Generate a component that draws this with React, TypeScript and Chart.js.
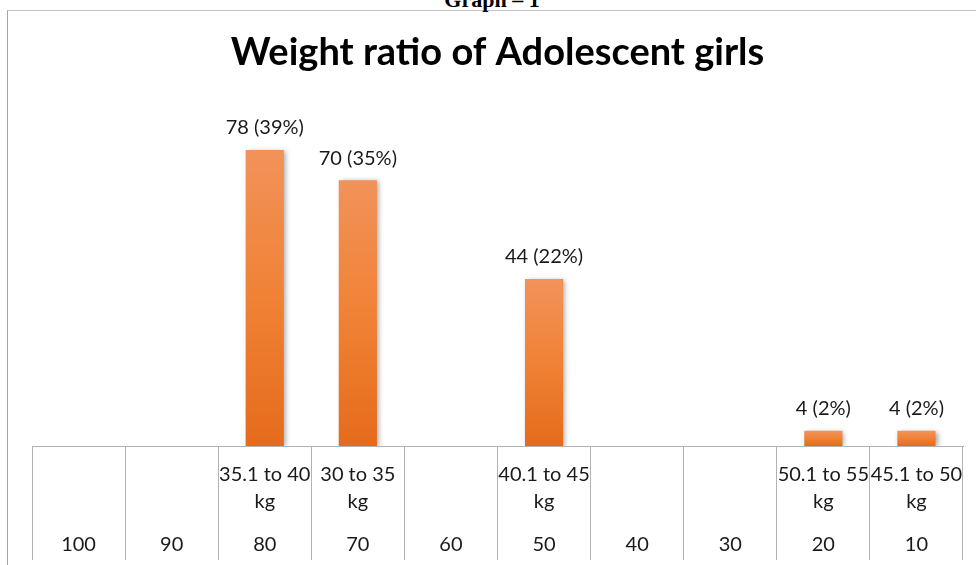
import React, { useEffect, useRef } from "react";
import { Chart, registerables } from "chart.js";

Chart.register(...registerables);

const chartTitle = "Weight ratio of Adolescent girls";
const rangeLabels: (string | string[])[] = [
  "",
  "",
  ["35.1 to 40", "kg"],
  ["30 to 35", "kg"],
  "",
  ["40.1 to 45", "kg"],
  "",
  "",
  ["50.1 to 55", "kg"],
  ["45.1 to 50", "kg"],
];
const numberLabels = ["100", "90", "80", "70", "60", "50", "40", "30", "20", "10"];
const counts: (number | null)[] = [null, null, 78, 70, null, 44, null, null, 4, 4];
const percents: (number | null)[] = [null, null, 39, 35, null, 22, null, null, 2, 2];

const FONT = "Lato, 'Open Sans', sans-serif";
const GRID = "#b3b3b3";
const TEXT = "#1a1a1a";
const CANVAS_H = 580;

export default function App() {
  const canvasRef = useRef<HTMLCanvasElement | null>(null);

  useEffect(() => {
    if (!canvasRef.current) return;

    const labelPlugin = {
      id: "barLabels",
      beforeDatasetsDraw(chart: any) {
        const ctx = chart.ctx;
        ctx.save();
        ctx.shadowColor = "rgba(0,0,0,0.35)";
        ctx.shadowBlur = 5;
        ctx.shadowOffsetX = 2;
        ctx.shadowOffsetY = 1;
      },
      afterDatasetsDraw(chart: any) {
        const ctx = chart.ctx;
        ctx.restore();
        const meta = chart.getDatasetMeta(0);
        ctx.save();
        ctx.font = `20px ${FONT}`;
        ctx.fillStyle = TEXT;
        ctx.textAlign = "center";
        ctx.textBaseline = "middle";
        meta.data.forEach((bar: any, i: number) => {
          const v = counts[i];
          if (v == null) return;
          ctx.fillText(`${v} (${percents[i]}%)`, bar.x, bar.y - 22);
        });
        ctx.restore();
      },
    };

    const tickFont = { family: FONT, size: 20, lineHeight: "27px" as any };

    const chart = new Chart(canvasRef.current, {
      type: "bar",
      data: {
        labels: rangeLabels as any,
        datasets: [
          {
            data: counts as any,
            xAxisID: "x",
            yAxisID: "y",
            categoryPercentage: 1,
            barPercentage: 0.41,
            backgroundColor: (c: any) => {
              const chartObj = c.chart;
              const y = chartObj.scales?.y;
              const v = c.raw;
              if (!y || v == null) return "#ed7d31";
              const top = y.getPixelForValue(v);
              const bottom = y.getPixelForValue(0);
              if (!isFinite(top) || !isFinite(bottom) || top === bottom) return "#ed7d31";
              const g = chartObj.ctx.createLinearGradient(0, top, 0, bottom);
              g.addColorStop(0, "#f2925a");
              g.addColorStop(0.5, "#f08235");
              g.addColorStop(1, "#e56b1b");
              return g;
            },
            borderWidth: 0,
          },
        ],
      },
      options: {
        responsive: false,
        animation: false,
        layout: { padding: { left: 32, right: 13, top: 10, bottom: 5.5 } },
        plugins: {
          legend: { display: false },
          tooltip: { enabled: false },
          title: {
            display: true,
            text: chartTitle,
            color: "#000000",
            font: { family: FONT, size: 38, weight: "bold" },
            padding: { top: 20.2, bottom: 28.6 },
          },
        },
        scales: {
          y: {
            display: false,
            min: 0,
            max: 90,
          },
          // axis carrying the table's vertical lines
          x: {
            type: "category",
            position: "bottom",
            weight: 0,
            offset: true,
            grid: {
              offset: true,
              drawOnChartArea: false,
              drawTicks: true,
              tickLength: 114,
              color: GRID,
              lineWidth: 1,
            },
            border: { display: true, color: GRID, width: 1 },
            ticks: {
              autoSkip: false,
              maxRotation: 0,
              minRotation: 0,
              padding: -62.75,
              font: tickFont,
              callback: () => "",
            },
          },
          // range labels row
          xr: {
            type: "category",
            position: "bottom",
            weight: 1,
            labels: rangeLabels as any,
            offset: true,
            grid: { display: false, drawTicks: false, drawOnChartArea: false },
            border: { display: false },
            ticks: {
              autoSkip: false,
              maxRotation: 0,
              minRotation: 0,
              padding: 0,
              color: TEXT,
              font: tickFont,
            },
          },
          // number labels row
          xn: {
            type: "category",
            position: "bottom",
            weight: 2,
            labels: numberLabels,
            offset: true,
            grid: { display: false, drawTicks: false, drawOnChartArea: false },
            border: { display: false },
            ticks: {
              autoSkip: false,
              maxRotation: 0,
              minRotation: 0,
              padding: 16,
              color: TEXT,
              font: tickFont,
            },
          },
        } as any,
      },
      plugins: [labelPlugin],
    });

    return () => chart.destroy();
  }, []);

  return (
    <div
      style={{
        position: "absolute",
        left: 0,
        top: 0,
        width: 976,
        height: 565,
        overflow: "hidden",
        background: "#ffffff",
      }}
    >
      <div
        style={{
          position: "absolute",
          left: 7,
          top: 10,
          width: 1100,
          height: 700,
          borderLeft: "1px solid #a6a6a6",
          borderTop: "1px solid #c4c4c4",
        }}
      />
      <div
        style={{
          position: "absolute",
          left: 392,
          top: -11,
          width: 200,
          textAlign: "center",
          fontFamily: "'Liberation Serif', 'Times New Roman', serif",
          fontWeight: "bold",
          fontSize: 22,
          lineHeight: "22px",
          color: "#000",
        }}
      >
        Graph – 1
      </div>
      <canvas
        ref={canvasRef}
        width={976}
        height={CANVAS_H}
        style={{ position: "absolute", left: 0, top: 0, width: 976, height: CANVAS_H }}
      />
    </div>
  );
}
